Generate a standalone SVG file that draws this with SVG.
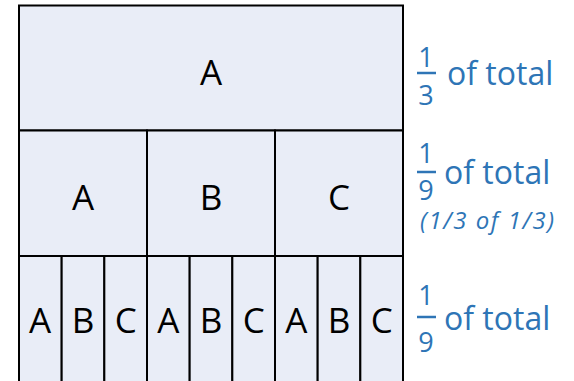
<svg xmlns="http://www.w3.org/2000/svg" width="574" height="381" viewBox="0 0 574 381">
<style>
.cell{fill:#e9edf7;stroke:#000;stroke-width:2}
.lbl{font-family:"Open Sans","Liberation Sans",sans-serif;font-size:35px;fill:#000;text-anchor:middle}
.note{font-family:"Open Sans","Liberation Sans",sans-serif;font-size:32px;fill:#2e75b6}
.frac{font-family:"Open Sans","Liberation Sans",sans-serif;font-size:27px;fill:#2e75b6;text-anchor:middle}
.sub{font-family:"Open Sans","Liberation Sans",sans-serif;font-size:24px;font-style:italic;fill:#2e75b6}
.bar{stroke:#2e75b6;stroke-width:2.5}
</style>
<rect width="574" height="381" fill="#fff"/>
<g id="top">
<rect class="cell" x="19" y="5.5" width="384" height="125"/>
<text class="lbl" x="211" y="85">A</text>
</g>
<g id="mid">
<rect class="cell" x="19" y="130.5" width="128" height="125.5"/>
<rect class="cell" x="147" y="130.5" width="128" height="125.5"/>
<rect class="cell" x="275" y="130.5" width="128" height="125.5"/>
<text class="lbl" x="83" y="210">A</text>
<text class="lbl" x="211" y="210">B</text>
<text class="lbl" x="339" y="210">C</text>
</g>
<g id="bottom">
<rect class="cell" x="19" y="256" width="42.67" height="126"/>
<rect class="cell" x="61.67" y="256" width="42.67" height="126"/>
<rect class="cell" x="104.33" y="256" width="42.67" height="126"/>
<rect class="cell" x="147" y="256" width="42.67" height="126"/>
<rect class="cell" x="189.67" y="256" width="42.67" height="126"/>
<rect class="cell" x="232.33" y="256" width="42.67" height="126"/>
<rect class="cell" x="275" y="256" width="42.67" height="126"/>
<rect class="cell" x="317.67" y="256" width="42.67" height="126"/>
<rect class="cell" x="360.33" y="256" width="42.67" height="126"/>
<text class="lbl" x="40" y="333">A</text>
<text class="lbl" x="83" y="333">B</text>
<text class="lbl" x="125.7" y="333">C</text>
<text class="lbl" x="168.3" y="333">A</text>
<text class="lbl" x="211" y="333">B</text>
<text class="lbl" x="253.7" y="333">C</text>
<text class="lbl" x="296.3" y="333">A</text>
<text class="lbl" x="339" y="333">B</text>
<text class="lbl" x="381.7" y="333">C</text>
</g>
<g id="note1">
<text class="frac" x="426" y="67">1</text>
<line class="bar" x1="417" y1="73" x2="436" y2="73"/>
<text class="frac" x="426" y="105">3</text>
<text class="note" x="447" y="85">of total</text>
</g>
<g id="note2">
<text class="frac" x="426" y="163">1</text>
<line class="bar" x1="417" y1="172" x2="436" y2="172"/>
<text class="frac" x="426" y="200">9</text>
<text class="note" x="444" y="184">of total</text>
<text class="sub" x="420" y="229" textLength="134" lengthAdjust="spacing">(1/3 of 1/3)</text>
</g>
<g id="note3">
<text class="frac" x="426" y="305">1</text>
<line class="bar" x1="417" y1="317" x2="436" y2="317"/>
<text class="frac" x="426" y="352">9</text>
<text class="note" x="444" y="330">of total</text>
</g>
</svg>
